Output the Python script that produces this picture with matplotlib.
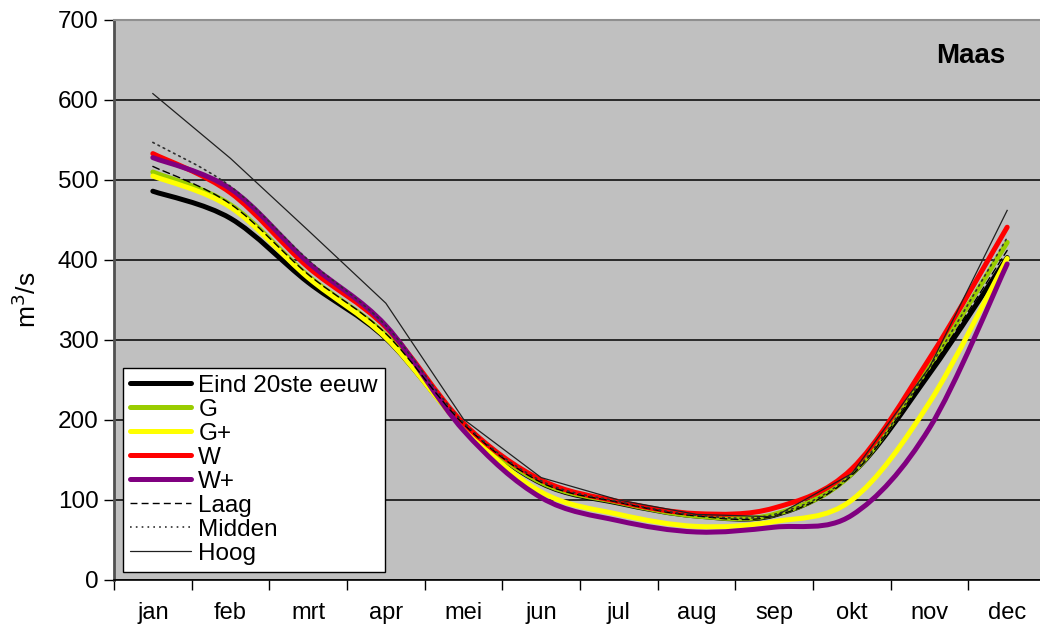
import numpy as np
import matplotlib.pyplot as plt
from matplotlib.path import Path
from matplotlib.patches import PathPatch
from matplotlib.lines import Line2D

months = ['jan', 'feb', 'mrt', 'apr', 'mei', 'jun', 'jul', 'aug', 'sep', 'okt', 'nov', 'dec']

# monthly mean discharge (m3/s)
eind = [486, 452, 372, 302, 192, 121, 96, 80, 81, 133, 258, 403]
g = [510, 469, 380, 306, 193, 122, 97, 80, 82, 133, 268, 422]
g_plus = [505, 466, 378, 303, 190, 110, 82, 67, 73, 100, 222, 402]
w = [533, 484, 391, 316, 196, 125, 98, 83, 90, 139, 277, 441]
w_plus = [528, 489, 397, 318, 187, 103, 74, 60, 66, 81, 190, 395]
laag = [517, 470, 382, 308, 195, 122, 97, 80, 80, 131, 262, 412]
midden = [547, 492, 400, 318, 197, 124, 98, 81, 82, 133, 266, 428]
hoog = [608, 527, 437, 346, 201, 128, 100, 82, 79, 133, 266, 462]


def smooth_path(x, y):
    # bezier curve through the points, spreadsheet-style smoothing
    n = len(x)
    verts = [(x[0], y[0])]
    codes = [Path.MOVETO]
    for i in range(n - 1):
        xa, ya = (x[i - 1], y[i - 1]) if i > 0 else (x[i], y[i])
        xb, yb = (x[i + 2], y[i + 2]) if i + 2 < n else (x[i + 1], y[i + 1])
        c1 = (x[i] + (x[i + 1] - xa) / 6, y[i] + (y[i + 1] - ya) / 6)
        c2 = (x[i + 1] - (xb - x[i]) / 6, y[i + 1] - (yb - y[i]) / 6)
        verts += [c1, c2, (x[i + 1], y[i + 1])]
        codes += [Path.CURVE4] * 3
    return Path(verts, codes)


fig = plt.figure(figsize=(10.4, 6.28), dpi=100)
ax = fig.add_axes([114 / 1040, 48 / 628, 932 / 1040, 560 / 628])
ax.set_facecolor('#C0C0C0')

x = np.arange(len(months))

series = [
    ('Eind 20ste eeuw', eind, dict(color='black', lw=3.6, ls='-'), True),
    ('G', g, dict(color='#99CC00', lw=3.6, ls='-'), True),
    ('G+', g_plus, dict(color='#FFFF00', lw=3.6, ls='-'), True),
    ('W', w, dict(color='#FF0000', lw=3.6, ls='-'), True),
    ('W+', w_plus, dict(color='#800080', lw=3.6, ls='-'), True),
    ('Laag', laag, dict(color='black', lw=1.0, ls=(0, (5, 3))), True),
    ('Midden', midden, dict(color='#303030', lw=1.2, ls=(0, (1, 2.5))), True),
    ('Hoog', hoog, dict(color='#202020', lw=0.9, ls='-'), False),
]

handles = []
for i, (name, vals, st, smooth) in enumerate(series):
    if smooth:
        p = PathPatch(smooth_path(x, vals), fill=False, edgecolor=st['color'],
                      lw=st['lw'], ls=st['ls'], capstyle='round', joinstyle='round',
                      zorder=3 + i)
        ax.add_patch(p)
    else:
        ax.plot(x, vals, color=st['color'], lw=st['lw'], ls=st['ls'], zorder=3 + i)
    handles.append(Line2D([], [], color=st['color'], lw=st['lw'], ls=st['ls'],
                          solid_capstyle='round', label=name))

ax.set_xlim(-0.5, 11.5)
ax.set_ylim(0, 700)
ax.set_yticks(range(0, 701, 100))
ax.yaxis.grid(True, color='black', lw=1.1)
ax.set_axisbelow(True)

ax.set_xticks(np.arange(-0.5, 11.0, 1.0))
ax.set_xticklabels([])
ax.set_xticks(x, minor=True)
ax.set_xticklabels(months, minor=True, fontsize=17, family=['Liberation Sans Narrow', 'Liberation Sans'])
ax.tick_params(axis='x', which='minor', length=0, pad=16)
ax.tick_params(axis='x', which='major', length=7, width=1, color='black', direction='out')
ax.tick_params(axis='y', length=7, width=1, color='black', direction='out', pad=4, labelsize=17.5)
for lab in ax.get_yticklabels():
    lab.set_family('Liberation Sans')

ax.spines['left'].set_color('#505050')
ax.spines['left'].set_linewidth(2)
ax.spines['bottom'].set_color('black')
ax.spines['bottom'].set_linewidth(1.2)
ax.spines['top'].set_color('#909090')
ax.spines['top'].set_linewidth(1.5)
ax.spines['right'].set_visible(False)

ax.set_ylabel('m$^3$/s', fontsize=19, family='Liberation Sans', labelpad=12)

fig.text(971 / 1040, 1 - 56 / 628, 'Maas', fontsize=20, fontweight='bold',
         family='Liberation Sans', ha='center', va='center')

leg = ax.legend(handles=handles, loc='lower left', bbox_to_anchor=(0.0097, 0.0143),
                borderaxespad=0, fancybox=False, framealpha=1, edgecolor='black',
                handlelength=2.5, handletextpad=0.3, labelspacing=0.08,
                borderpad=0.3, prop={'family': 'Liberation Sans', 'size': 17.5})
leg.get_frame().set_linewidth(1.0)
leg.set_zorder(20)

fig.savefig('out.png', dpi=100)
